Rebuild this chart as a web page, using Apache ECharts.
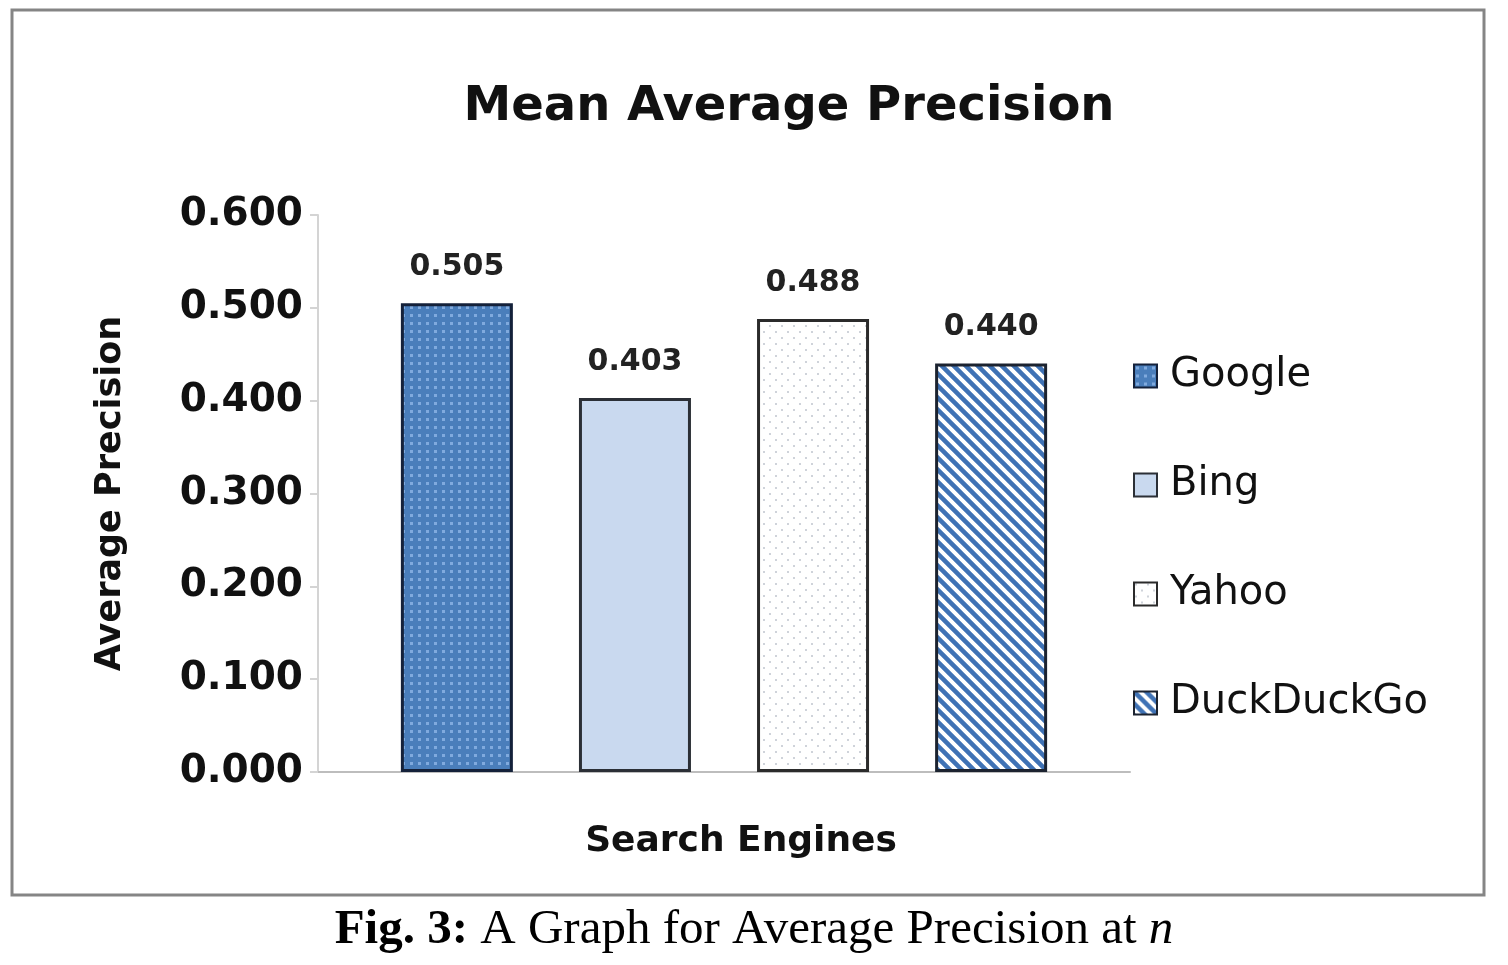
<!DOCTYPE html>
<html>
<head>
<meta charset="utf-8">
<script src="https://cdn.jsdelivr.net/npm/echarts@6/dist/echarts.min.js"></script>
<style>
html,body{margin:0;padding:0;background:#fff;}
#chart{width:1508px;height:965px;}
</style>
</head>
<body>
<div id="chart"></div>
<script>
const categories = ['Search Engines'];
const engines = ['Google', 'Bing', 'Yahoo', 'DuckDuckGo'];
const googleValues = [0.505];
const bingValues = [0.403];
const yahooValues = [0.488];
const duckValues = [0.440];
const yTicks = [0, 0.1, 0.2, 0.3, 0.4, 0.5, 0.6];

function makeTile(w, h, draw) {
  const c = document.createElement('canvas');
  c.width = w; c.height = h;
  const ctx = c.getContext('2d');
  draw(ctx, w, h);
  return { image: c, repeat: 'repeat' };
}
const googleFill = makeTile(8, 8, (ctx, w, h) => {
  ctx.fillStyle = '#4a7ebb'; ctx.fillRect(0, 0, w, h);
  ctx.fillStyle = '#80aade'; ctx.fillRect(2, 2, 3, 3);
});
const bingFill = '#c9d9ef';
const yahooFill = makeTile(12, 12, (ctx, w, h) => {
  ctx.fillStyle = '#ffffff'; ctx.fillRect(0, 0, w, h);
  ctx.fillStyle = '#cfd3da';
  ctx.fillRect(1, 1, 2, 2); ctx.fillRect(7, 7, 2, 2);
});
const duckFill = makeTile(12, 12, (ctx, w, h) => {
  ctx.fillStyle = '#ffffff'; ctx.fillRect(0, 0, w, h);
  ctx.strokeStyle = '#3f72b5'; ctx.lineWidth = 4.5;
  ctx.beginPath();
  ctx.moveTo(-3, -3); ctx.lineTo(w + 3, h + 3);
  ctx.moveTo(-3 - w, -3); ctx.lineTo(3, h + 3);
  ctx.moveTo(w - 3, -3); ctx.lineTo(2 * w + 3, h + 3);
  ctx.stroke();
});
const fills = [googleFill, bingFill, yahooFill, duckFill];
const borders = ['#14213a', '#2b2f36', '#2b2b2b', '#1c2330'];
const seriesValues = [googleValues, bingValues, yahooValues, duckValues];

const font = 'DejaVu Sans';
const chart = echarts.init(document.getElementById('chart'), null, { renderer: 'canvas' });
chart.setOption({
  backgroundColor: '#ffffff',
  animation: false,
  title: {
    text: 'Mean Average Precision',
    left: 784, top: 79, textAlign: 'center',
    textStyle: { fontFamily: font, fontWeight: 'bold', fontSize: 48, color: '#111' }
  },
  legend: {
    orient: 'vertical',
    left: 1128, top: 351,
    itemWidth: 23, itemHeight: 23,
    itemGap: 69,
    icon: 'rect',
    data: engines,
    textStyle: { fontFamily: font, fontSize: 40, color: '#111', padding: [0, 0, 0, 8] }
  },
  grid: { left: 318, right: 378, top: 215, bottom: 193, containLabel: false },
  xAxis: {
    type: 'category',
    data: categories,
    name: 'Search Engines',
    nameLocation: 'middle',
    nameGap: 52,
    nameTextStyle: { fontFamily: font, fontWeight: 'bold', fontSize: 36, color: '#111', padding: [0, 0, 0, 34] },
    axisLine: { lineStyle: { color: '#bdbdbd', width: 2 } },
    axisTick: { show: false },
    axisLabel: { show: false }
  },
  yAxis: {
    type: 'value',
    min: 0, max: 0.6, interval: 0.1,
    name: 'Average Precision',
    nameLocation: 'middle',
    nameGap: 190,
    nameRotate: 90,
    nameTextStyle: { fontFamily: font, fontWeight: 'bold', fontSize: 35, color: '#111' },
    axisLine: { show: true, lineStyle: { color: '#d4d4d4', width: 2 } },
    axisTick: { show: true, length: 8, lineStyle: { color: '#d4d4d4', width: 2 } },
    splitLine: { show: false },
    axisLabel: {
      margin: 15,
      fontFamily: font, fontWeight: 'bold', fontSize: 39, color: '#111',
      formatter: v => v.toFixed(3)
    }
  },
  series: engines.map((name, i) => ({
    name: name,
    type: 'bar',
    data: seriesValues[i],
    barWidth: 112,
    barGap: '59%',
    itemStyle: { color: fills[i], borderColor: borders[i], borderWidth: 3 },
    label: {
      show: true, position: 'top', distance: 21,
      fontFamily: font, fontWeight: 'bold', fontSize: 30, color: '#222',
      formatter: p => p.value.toFixed(3)
    }
  })),
  graphic: [
    { type: 'rect', shape: { x: 12, y: 10, width: 1472, height: 885 },
      style: { fill: 'none', stroke: '#858585', lineWidth: 3 }, z: 100 },
    { type: 'text', left: 'center', top: 906,
      style: {
        text: '{b|Fig. 3:} A Graph for Average Precision at {i|n}',
        font: '49px "Liberation Serif"', fill: '#000',
        rich: {
          b: { fontFamily: 'Liberation Serif', fontWeight: 'bold', fontSize: 49, fill: '#000' },
          i: { fontFamily: 'Liberation Serif', fontStyle: 'italic', fontSize: 49, fill: '#000' }
        }
      }
    }
  ]
});
</script>
</body>
</html>
